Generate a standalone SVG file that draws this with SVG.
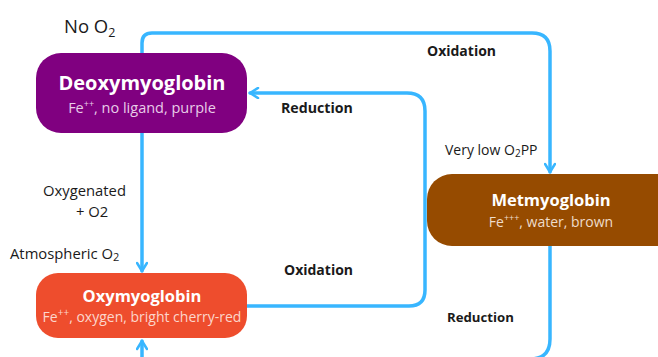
<svg xmlns="http://www.w3.org/2000/svg" width="658" height="357" viewBox="0 0 658 357">
<style>
.box-title{font-family:"Open Sans","Liberation Sans",sans-serif;font-weight:700;fill:#ffffff;text-anchor:middle}
.box-sub{font-family:"Open Sans","Liberation Sans",sans-serif;text-anchor:middle}
.lbl{font-family:"Open Sans","Liberation Sans",sans-serif;fill:#1a1a1a}
.bold{font-weight:700}
.conn{fill:none;stroke:#38B6FF;stroke-width:3.5;stroke-linecap:round;stroke-linejoin:round}
</style>
<defs>
<marker id="arr" viewBox="0 0 12 12" refX="10" refY="6" markerWidth="12" markerHeight="12" markerUnits="userSpaceOnUse" orient="auto">
<path d="M2,1 L10,6 L2,11" fill="none" stroke="#38B6FF" stroke-width="2.6" stroke-linecap="round" stroke-linejoin="round"/>
</marker>
</defs>
<rect width="658" height="357" fill="#ffffff"/>
<g id="connectors">
<path class="conn" d="M142,53 V43 Q142,33 152,33 H532 Q550,33 550,51 V172" marker-end="url(#arr)"/>
<path class="conn" d="M247,306 H409 Q425,306 425,290 V111 Q425,93 407,93 H250" marker-end="url(#arr)"/>
<path class="conn" d="M142,133 V271" marker-end="url(#arr)"/>
<path class="conn" d="M550,246 V339 Q550,359 530,359 H142 V341" marker-end="url(#arr)"/>
</g>
<g id="deoxymyoglobin">
<rect x="36" y="53" width="211" height="80" rx="25" fill="#800080"/>
<text class="box-title" x="142" y="90" font-size="20">Deoxymyoglobin</text>
<text class="box-sub" x="142" y="113" font-size="14.5" fill="#E8CCE8">Fe<tspan font-size="9" dy="-6">++</tspan><tspan dy="6">, no ligand, purple</tspan></text>
</g>
<g id="oxymyoglobin">
<rect x="36" y="273" width="211" height="65" rx="22" fill="#EE4D2D"/>
<text class="box-title" x="142" y="302" font-size="16.5">Oxymyoglobin</text>
<text class="box-sub" x="142" y="322" font-size="14" fill="#FCD6CC">Fe<tspan font-size="10" dy="-6">++</tspan><tspan dy="6">, oxygen, bright cherry-red</tspan></text>
</g>
<g id="metmyoglobin">
<rect x="427" y="174" width="260" height="72" rx="25" fill="#964B00"/>
<text class="box-title" x="551" y="206" font-size="16.5">Metmyoglobin</text>
<text class="box-sub" x="551" y="227" font-size="14" fill="#EEDCCB">Fe<tspan font-size="9" dy="-6">+++</tspan><tspan dy="6">, water, brown</tspan></text>
</g>
<g id="labels">
<text class="lbl" x="64" y="33" font-size="18.5">No O<tspan font-size="12.5" dy="4">2</tspan></text>
<text class="lbl bold" x="427" y="56" font-size="14">Oxidation</text>
<text class="lbl bold" x="281" y="113" font-size="14.2">Reduction</text>
<text class="lbl" x="445" y="155" font-size="14">Very low O<tspan font-size="10" dy="2">2</tspan><tspan dy="-2">PP</tspan></text>
<text class="lbl" x="43" y="196" font-size="14.8">Oxygenated</text>
<text class="lbl" x="76" y="217" font-size="14.8">+ O2</text>
<text class="lbl" x="10" y="259" font-size="14.8">Atmospheric O<tspan font-size="11" dy="2">2</tspan></text>
<text class="lbl bold" x="284" y="275" font-size="14">Oxidation</text>
<text class="lbl bold" x="447" y="322" font-size="13.2">Reduction</text>
</g>
</svg>
